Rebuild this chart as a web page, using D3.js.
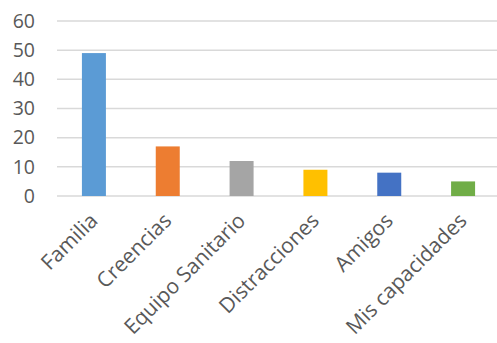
<!DOCTYPE html>
<html><head><meta charset="utf-8">
<script src="https://cdn.jsdelivr.net/npm/d3@7"></script>
<style>body{margin:0;background:#fff}svg{display:block}</style>
</head><body><svg id="c" width="497" height="343"></svg>
<script>
const categories = ["Familia","Creencias","Equipo Sanitario","Distracciones","Amigos","Mis capacidades"];
const values = [49,17,12,9,8,5];
const colors = ["#5B9BD5","#ED7D31","#A5A5A5","#FFC000","#4472C4","#70AD47"];
const yTicks = [0,10,20,30,40,50,60];

(function(){
const svg = d3.select("#c");
const mLeft = 57, mRight = 500, mTop = 21, mBottom = 196;
const x = d3.scaleBand().domain(categories).range([mLeft, mRight]).paddingInner(0.675).paddingOuter(0.3375);
const y = d3.scaleLinear().domain([0,60]).range([mBottom, mTop]);

svg.append("g").selectAll("line").data(yTicks).join("line")
  .attr("x1", mLeft).attr("x2", mRight)
  .attr("y1", d => y(d)).attr("y2", d => y(d))
  .attr("stroke", "#d9d9d9").attr("stroke-width", 1.5);

svg.append("g").selectAll("rect").data(values).join("rect")
  .attr("x", (d,i) => x(categories[i]))
  .attr("width", x.bandwidth())
  .attr("y", d => y(d))
  .attr("height", d => y(0) - y(d))
  .attr("fill", (d,i) => colors[i]);

const yAxis = d3.axisLeft(y).tickValues(yTicks).tickSize(0).tickPadding(0);
const gy = svg.append("g").attr("transform", `translate(35,0)`).call(yAxis);
gy.select(".domain").remove();
gy.selectAll("text").attr("fill", "#595959").style("font-family", "'Open Sans', sans-serif").style("font-size", "19.5px");

const xAxis = d3.axisBottom(x).tickSize(0).tickPadding(0);
const gx = svg.append("g").attr("transform", `translate(0,${mBottom})`).call(xAxis);
gx.select(".domain").remove();
gx.selectAll("text")
  .attr("fill", "#595959")
  .style("font-family", "'Open Sans', sans-serif").style("font-size", "21px")
  .attr("text-anchor", "end").attr("dy", "0").attr("y", 0)
  .attr("transform", "translate(5,26) rotate(-45)");
})();
</script></body></html>
